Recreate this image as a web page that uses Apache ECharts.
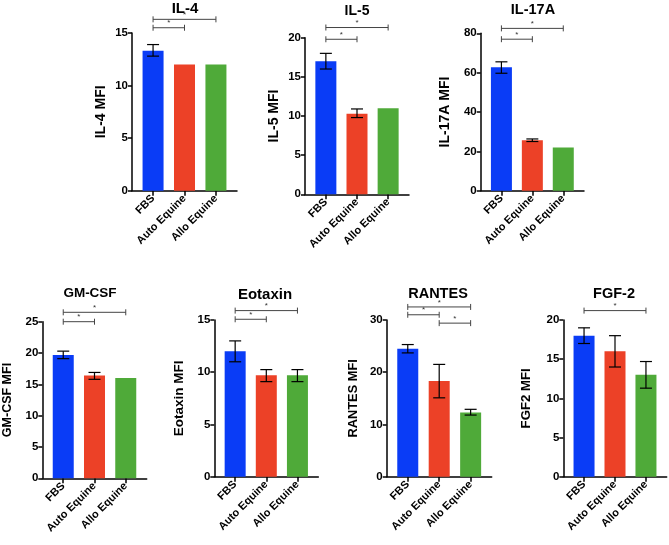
<!DOCTYPE html>
<html>
<head>
<meta charset="utf-8">
<script src="https://cdn.jsdelivr.net/npm/echarts@6/dist/echarts.min.js"></script>
<style>
html,body{margin:0;padding:0;background:#fff;}
#chart{width:669px;height:545px;}
</style>
</head>
<body>
<div id="chart"></div>
<script>
// ---- data ----
const groups = ['FBS', 'Auto Equine', 'Allo Equine'];

const il4Mean = [13.3, 12, 12];
const il4Low = [12.8, null, null];
const il4High = [13.9, null, null];
const il4Sig = [[0, 1, 15.5], [0, 2, 16.3]];

const il5Mean = [17, 10.3, 11];
const il5Low = [16, 9.8, null];
const il5High = [18, 10.9, null];
const il5Sig = [[0, 1, 19.8], [0, 2, 21.3]];

const il17aMean = [62.7, 25.6, 22];
const il17aLow = [59.7, 25.0, null];
const il17aHigh = [65.5, 26.3, null];
const il17aSig = [[0, 1, 77], [0, 2, 82.5]];

const gmcsfMean = [19.7, 16.4, 16];
const gmcsfLow = [19.1, 15.8, null];
const gmcsfHigh = [20.3, 16.9, null];
const gmcsfSig = [[0, 1, 25], [0, 2, 26.5]];

const eotaxinMean = [12, 9.7, 9.7];
const eotaxinLow = [11, 9.1, 9.1];
const eotaxinHigh = [13, 10.25, 10.25];
const eotaxinSig = [[0, 1, 15.07], [0, 2, 15.9]];

const rantesMean = [24.5, 18.3, 12.3];
const rantesLow = [23.7, 15.1, 11.8];
const rantesHigh = [25.3, 21.5, 12.9];
const rantesSig = [[0, 1, 31.0], [0, 2, 32.5], [1, 2, 29.4]];

const fgf2Mean = [18, 16, 13];
const fgf2Low = [17, 14, 11.3];
const fgf2High = [19, 18, 14.7];
const fgf2Sig = [[0, 2, 21.2]];

const titles = ['IL-4', 'IL-5', 'IL-17A', 'GM-CSF', 'Eotaxin', 'RANTES', 'FGF-2'];
const yNames = ['IL-4 MFI', 'IL-5 MFI', 'IL-17A MFI', 'GM-CSF MFI', 'Eotaxin MFI', 'RANTES MFI', 'FGF2 MFI'];
const yMax = [15, 20, 80, 25, 15, 30, 20];
const yStep = [5, 5, 20, 5, 5, 10, 5];

// ---- layout / style ----
const colors = ['#0a3cf6', '#ec4127', '#4faa39'];
const FONT = '"Liberation Sans", Arial, Helvetica, sans-serif';
const layout = [
  {left: 132, top: 33, width: 105, height: 157.7, tx: 185, ty: 9, gap: 24, tf: 15, nf: 14},
  {left: 305, top: 37.7, width: 104, height: 156.6, tx: 357, ty: 11, gap: 24, tf: 14, nf: 14},
  {left: 480.7, top: 33.3, width: 103.3, height: 157.4, tx: 533, ty: 10, gap: 29, tf: 14.5, nf: 14},
  {left: 42.3, top: 321.7, width: 104.4, height: 156.6, tx: 90, ty: 293, gap: 28, tf: 13.5, nf: 12.5},
  {left: 214.3, top: 320, width: 104, height: 156.7, tx: 265, ty: 295, gap: 28, tf: 15, nf: 13.5},
  {left: 386.7, top: 320, width: 105, height: 156.7, tx: 438, ty: 294, gap: 27, tf: 14.5, nf: 12.8},
  {left: 563.3, top: 320, width: 103.4, height: 156.7, tx: 614, ty: 294, gap: 30, tf: 14.5, nf: 13.2}
];

const means = [il4Mean, il5Mean, il17aMean, gmcsfMean, eotaxinMean, rantesMean, fgf2Mean];
const lows = [il4Low, il5Low, il17aLow, gmcsfLow, eotaxinLow, rantesLow, fgf2Low];
const highs = [il4High, il5High, il17aHigh, gmcsfHigh, eotaxinHigh, rantesHigh, fgf2High];
const sigs = [il4Sig, il5Sig, il17aSig, gmcsfSig, eotaxinSig, rantesSig, fgf2Sig];

const grid = [], xAxis = [], yAxis = [], series = [], graphic = [];

layout.forEach((L, k) => {
  grid.push({left: L.left, top: L.top, width: L.width, height: L.height});
  xAxis.push({
    type: 'value', gridIndex: k, min: -0.67, max: 2.67,
    axisLine: {show: true, onZero: false, lineStyle: {color: '#000', width: 1.5}},
    axisTick: {show: true, customValues: [0, 1, 2], length: 5, lineStyle: {color: '#000', width: 1.5}},
    axisLabel: {
      customValues: [0, 1, 2], rotate: 45, margin: 6,
      formatter: v => groups[Math.round(v)],
      fontFamily: FONT, fontWeight: 'bold', fontSize: 11, color: '#000'
    },
    splitLine: {show: false}
  });
  yAxis.push({
    type: 'value', gridIndex: k, min: 0, max: yMax[k], interval: yStep[k],
    name: yNames[k], nameLocation: 'middle', nameGap: L.gap,
    nameTextStyle: {fontFamily: FONT, fontWeight: 'bold', fontSize: L.nf, color: '#000'},
    axisLine: {show: true, onZero: false, lineStyle: {color: '#000', width: 1.5}},
    axisTick: {show: true, length: 4, lineStyle: {color: '#000', width: 1.5}},
    axisLabel: {fontFamily: FONT, fontWeight: 'bold', fontSize: 11.5, color: '#000', margin: 4},
    splitLine: {show: false}
  });
  series.push({
    type: 'bar', xAxisIndex: k, yAxisIndex: k, barWidth: 21,
    data: means[k].map((v, i) => ({value: [i, v], itemStyle: {color: colors[i]}})),
    z: 2
  });
  const errData = [];
  means[k].forEach((v, i) => {
    if (lows[k][i] != null) errData.push([i, lows[k][i], highs[k][i]]);
  });
  series.push({
    type: 'custom', xAxisIndex: k, yAxisIndex: k, z: 5,
    data: errData,
    encode: {x: 0, y: [1, 2]},
    renderItem: (params, api) => {
      const x = api.value(0);
      const a = api.coord([x, api.value(1)]);
      const b = api.coord([x, api.value(2)]);
      const w = 6;
      const st = {stroke: '#000', lineWidth: 1.2};
      return {type: 'group', children: [
        {type: 'line', shape: {x1: a[0], y1: a[1], x2: b[0], y2: b[1]}, style: st},
        {type: 'line', shape: {x1: a[0] - w, y1: a[1], x2: a[0] + w, y2: a[1]}, style: st},
        {type: 'line', shape: {x1: b[0] - w, y1: b[1], x2: b[0] + w, y2: b[1]}, style: st}
      ]};
    }
  });
  series.push({
    type: 'custom', xAxisIndex: k, yAxisIndex: k, z: 5, clip: false,
    data: sigs[k],
    encode: {x: [0, 1], y: 2},
    renderItem: (params, api) => {
      const a = api.coord([api.value(0), api.value(2)]);
      const b = api.coord([api.value(1), api.value(2)]);
      const st = {stroke: '#444', lineWidth: 1};
      return {type: 'group', children: [
        {type: 'line', shape: {x1: a[0], y1: a[1], x2: b[0], y2: b[1]}, style: st},
        {type: 'line', shape: {x1: a[0], y1: a[1] - 3, x2: a[0], y2: a[1] + 3}, style: st},
        {type: 'line', shape: {x1: b[0], y1: b[1] - 3, x2: b[0], y2: b[1] + 3}, style: st},
        {type: 'text', style: {x: (a[0] + b[0]) / 2, y: a[1] - 0.5, text: '*', align: 'center', verticalAlign: 'bottom',
          fill: '#333', font: '8px ' + FONT}}
      ]};
    }
  });
  graphic.push({
    type: 'text', x: L.tx, y: L.ty,
    style: {text: titles[k], align: 'center', verticalAlign: 'middle', fill: '#000',
      font: 'bold ' + L.tf + 'px ' + FONT}
  });
});

const chart = echarts.init(document.getElementById('chart'), null, {renderer: 'canvas'});
chart.setOption({
  backgroundColor: '#fff',
  animation: false,
  grid, xAxis, yAxis, series, graphic
});
</script>
</body>
</html>
